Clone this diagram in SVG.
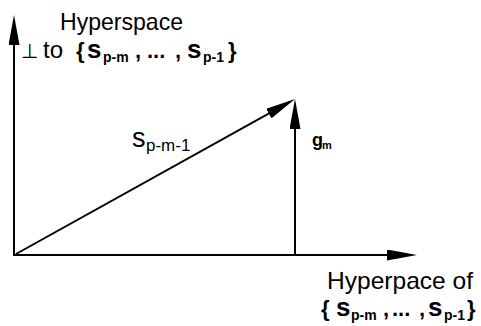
<svg xmlns="http://www.w3.org/2000/svg" width="481" height="326" viewBox="0 0 481 326">
<style>
.t{font-family:"Liberation Sans",Arial,sans-serif;fill:#000;}
.b{font-weight:bold;}
.ln{fill:none;stroke:#000;stroke-width:2;}
</style>
<defs>
<marker id="ah" viewBox="0 0 30 11" refX="24" refY="5.5" markerWidth="30" markerHeight="11" markerUnits="userSpaceOnUse" orient="auto">
<path d="M0,0 L30,5.5 L0,11 Z" fill="#000"/>
</marker>
</defs>
<rect width="481" height="326" fill="#fff"/>
<g id="connectors">
<path id="y-axis" class="ln" d="M14,256 L14,21" marker-end="url(#ah)"/>
<path id="x-axis" class="ln" d="M13,255 L411,255" marker-end="url(#ah)"/>
<path id="s-vector" class="ln" d="M16,254 L289.76,101.91" marker-end="url(#ah)"/>
<path id="g-vector" class="ln" d="M295,255 L295,105" marker-end="url(#ah)"/>
</g>
<g id="label-perp">
<text class="t" x="60" y="30" font-size="24" textLength="123" lengthAdjust="spacingAndGlyphs">Hyperspace</text>
<text class="t" y="58" font-size="24"><tspan x="21" font-size="20">⊥</tspan><tspan x="43">to</tspan><tspan x="76" class="b" font-size="22">{</tspan><tspan x="87" class="b" font-size="26">s</tspan><tspan x="103" dy="4" class="b" font-size="14">p-m</tspan><tspan x="135" dy="-4" class="b" font-size="22">,</tspan><tspan x="147" class="b" font-size="22">...</tspan><tspan x="175" class="b" font-size="22">,</tspan><tspan x="187" class="b" font-size="26">s</tspan><tspan x="203" dy="4" class="b" font-size="14">p-1</tspan><tspan x="228" dy="-4" class="b" font-size="22">}</tspan></text>
</g>
<g id="label-s">
<text class="t" y="147" font-size="27"><tspan x="132">s</tspan><tspan x="146" dy="4" font-size="17">p-m-1</tspan></text>
</g>
<g id="label-g">
<text class="t b" y="146" font-size="18"><tspan x="312">g</tspan><tspan x="322" dy="3" font-size="11">m</tspan></text>
</g>
<g id="label-span">
<text class="t" x="327" y="289" font-size="24" textLength="146" lengthAdjust="spacingAndGlyphs">Hyperpace of</text>
<text class="t b" y="316" font-size="22"><tspan x="321">{</tspan><tspan x="336" font-size="26">s</tspan><tspan x="351" dy="4" font-size="14">p-m</tspan><tspan x="383" dy="-4">,</tspan><tspan x="392">...</tspan><tspan x="419">,</tspan><tspan x="428" font-size="26">s</tspan><tspan x="444" dy="4" font-size="14">p-1</tspan><tspan x="467" dy="-4">}</tspan></text>
</g>
</svg>
